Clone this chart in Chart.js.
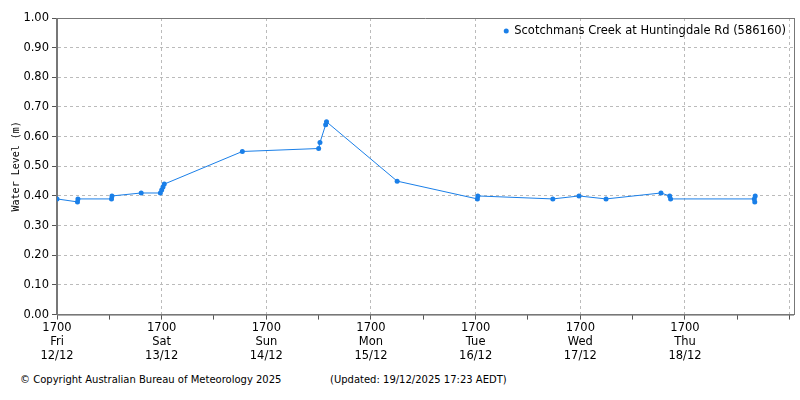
<!DOCTYPE html>
<html><head><script src="https://cdn.jsdelivr.net/npm/chart.js@4"></script>
<style>body{margin:0;background:#fff}#w{position:relative;width:800px;height:400px}
.f{position:absolute;top:374px;font:10px "DejaVu Sans",sans-serif;color:#000}</style></head>
<body><div id="w"><canvas id="c" width="800" height="365"></canvas>
<div class="f" style="left:20px">© Copyright Australian Bureau of Meteorology 2025</div>
<div class="f" style="left:330px">(Updated: 19/12/2025 17:23 AEDT)</div></div>
<script>
const seriesLabel = "Scotchmans Creek at Huntingdale Rd (586160)";
const hours = [0,4.7,4.8,12.5,12.6,19.3,23.7,24.0,24.3,24.6,42.5,60.0,60.3,61.6,61.8,78.0,96.4,96.5,113.7,119.7,125.9,138.5,140.5,140.7,159.9,160.0,160.1];
const levels = [0.39,0.38,0.39,0.39,0.40,0.41,0.41,0.42,0.43,0.44,0.55,0.56,0.58,0.64,0.65,0.45,0.39,0.40,0.39,0.40,0.39,0.41,0.40,0.39,0.39,0.38,0.40];
const tickDays = [["1700","Fri","12/12"],["1700","Sat","13/12"],["1700","Sun","14/12"],["1700","Mon","15/12"],["1700","Tue","16/12"],["1700","Wed","17/12"],["1700","Thu","18/12"]];
const col = "#1a7fe8";
const legendPlug = {id:"lg",afterDraw(ch){const c=ch.ctx,a=ch.chartArea;c.save();c.font='11.5px "DejaVu Sans"';c.fillStyle="#000";c.textAlign="right";c.textBaseline="middle";
const x=a.right-8,y=a.top+13;c.fillText(seriesLabel,x,y);const w=c.measureText(seriesLabel).width;c.fillStyle=col;c.beginPath();c.arc(x-w-8,y,2.5,0,7);c.fill();c.restore();}};
new Chart(document.getElementById("c"),{type:"line",
data:{datasets:[{label:seriesLabel,data:hours.map((h,i)=>({x:h,y:levels[i]})),borderColor:col,backgroundColor:col,borderWidth:1,pointRadius:2.5,pointBorderWidth:0,tension:0}]},
options:{responsive:false,animation:false,layout:{padding:{left:8,right:6,top:18}},
plugins:{legend:{display:false},tooltip:{enabled:false}},
scales:{x:{type:"linear",min:0,max:169,afterBuildTicks(ax){ax.ticks=[];for(let h=0;h<=168;h+=12)ax.ticks.push({value:h});},
grid:{color:c=>c.tick&&c.tick.value%24===0&&c.tick.value>0?"#bbb":"rgba(0,0,0,0)",tickColor:"#555",tickLength:5,drawTicks:true},
border:{color:"#777",dash:[3,3]},
ticks:{color:"#000",font:{family:"DejaVu Sans",size:11.5},maxRotation:0,autoSkip:false,padding:2,callback:v=>v%24===0&&v/24<tickDays.length?tickDays[v/24]:""}},
y:{min:0,max:1,afterFit(ax){ax.width=49},ticks:{stepSize:0.1,color:"#000",font:{family:"DejaVu Sans",size:11.5},callback:v=>v.toFixed(2)},
grid:{color:c=>c.tick&&c.tick.value>0&&c.tick.value<1?"#bbb":"rgba(0,0,0,0)",tickColor:"#555",tickLength:5},border:{color:"#777",dash:[3,3]},
title:{display:true,text:"Water Level (m)",color:"#000",font:{family:"DejaVu Sans Mono",size:10},padding:2}}}},
plugins:[legendPlug,{id:"rb",afterDraw(ch){const c=ch.ctx,a=ch.chartArea;c.save();c.strokeStyle="#777";c.beginPath();c.moveTo(a.right+.5,a.top);c.lineTo(a.right+.5,a.bottom);c.moveTo(a.left,a.top+.5);c.lineTo(a.right,a.top+.5);c.moveTo(a.left-.5,a.top);c.lineTo(a.left-.5,a.bottom);c.moveTo(a.left,a.bottom+.5);c.lineTo(a.right,a.bottom+.5);c.stroke();c.restore();}}]});
</script></body></html>
